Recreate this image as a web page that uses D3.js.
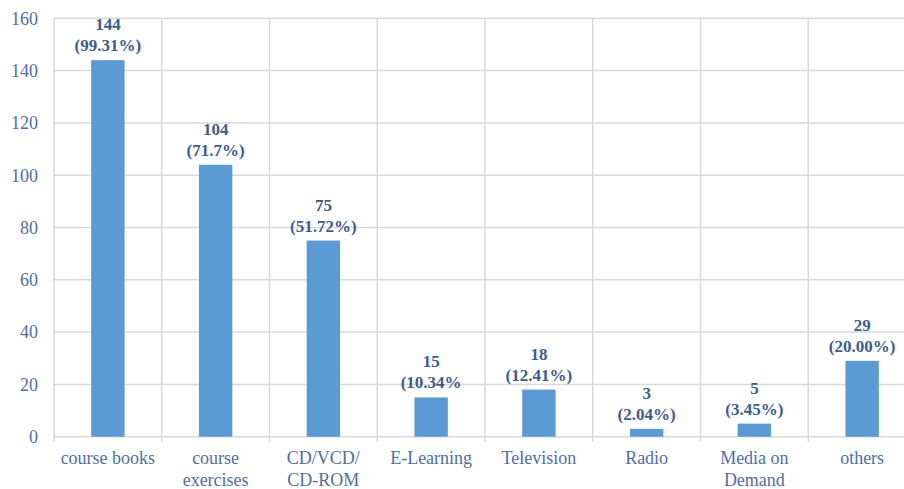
<!DOCTYPE html>
<html>
<head>
<meta charset="utf-8">
<script src="https://cdn.jsdelivr.net/npm/d3@7"></script>
<style>
  body { margin: 0; background: #fff; }
  text { font-family: "Liberation Serif", "Times New Roman", serif; }
</style>
</head>
<body>
<div class="chart"></div>
<script>
var categories = ["course books", "course\nexercises", "CD/VCD/\nCD-ROM", "E-Learning",
  "Television", "Radio", "Media on\nDemand", "others"];
var counts = [144, 104, 75, 15, 18, 3, 5, 29];
var percentLabels = ["(99.31%)", "(71.7%)", "(51.72%)", "(10.34%", "(12.41%)",
  "(2.04%)", "(3.45%)", "(20.00%)"];
var yTicks = [0, 20, 40, 60, 80, 100, 120, 140, 160];

var svgWidth = 904;
var svgHeight = 489;

// plot area (right side runs past the picture edge, as in the reference)
var plotLeft = 54, plotRight = 916, plotTop = 18.3, plotBottom = 436.7;

var svg = d3.select(".chart")
  .append("svg")
  .attr("width", svgWidth)
  .attr("height", svgHeight);

var x = d3.scaleBand()
  .domain(categories)
  .range([plotLeft, plotRight])
  .paddingInner(0.69)
  .paddingOuter(0.345);

var y = d3.scaleLinear()
  .domain([0, 160])
  .range([plotBottom, plotTop]);

var gridColor = "#d9d9d9";

// horizontal gridlines
svg.selectAll("line.hgrid")
  .data(yTicks)
  .enter()
  .append("line")
  .attr("class", "hgrid")
  .attr("x1", plotLeft)
  .attr("x2", plotRight)
  .attr("y1", d => y(d))
  .attr("y2", d => y(d))
  .attr("stroke", gridColor)
  .attr("stroke-width", 1.5);

// vertical lines between categories (with tick below the axis)
var step = x.step();
var bounds = d3.range(categories.length + 1).map(i => plotLeft + i * step);
svg.selectAll("line.vgrid")
  .data(bounds)
  .enter()
  .append("line")
  .attr("class", "vgrid")
  .attr("x1", d => d)
  .attr("x2", d => d)
  .attr("y1", plotTop)
  .attr("y2", plotBottom + 5)
  .attr("stroke", gridColor)
  .attr("stroke-width", 1.5);

// y axis labels
svg.selectAll("text.ytick")
  .data(yTicks)
  .enter()
  .append("text")
  .attr("class", "ytick")
  .attr("x", 38)
  .attr("y", d => y(d))
  .attr("dy", "0.35em")
  .attr("text-anchor", "end")
  .attr("font-size", 18)
  .attr("fill", "#4f6ea8")
  .text(d => d);

// bars
svg.selectAll("rect.bar")
  .data(counts)
  .enter()
  .append("rect")
  .attr("class", "bar")
  .attr("x", (d, i) => x(categories[i]))
  .attr("width", x.bandwidth())
  .attr("y", d => y(d))
  .attr("height", d => y(0) - y(d))
  .attr("fill", "#5b9bd5");

// data labels
var labelColor = "#3d5b94";
svg.selectAll("text.val")
  .data(counts)
  .enter()
  .append("text")
  .attr("class", "val")
  .attr("x", (d, i) => x(categories[i]) + x.bandwidth() / 2)
  .attr("y", d => y(d) - 30)
  .attr("text-anchor", "middle")
  .attr("font-size", 17)
  .attr("font-weight", "bold")
  .attr("fill", labelColor)
  .text(d => d);

svg.selectAll("text.pct")
  .data(counts)
  .enter()
  .append("text")
  .attr("class", "pct")
  .attr("x", (d, i) => x(categories[i]) + x.bandwidth() / 2)
  .attr("y", d => y(d) - 9)
  .attr("text-anchor", "middle")
  .attr("font-size", 17)
  .attr("font-weight", "bold")
  .attr("fill", labelColor)
  .text((d, i) => percentLabels[i]);

// category labels
var catLabels = svg.selectAll("text.cat")
  .data(categories)
  .enter()
  .append("text")
  .attr("class", "cat")
  .attr("x", d => x(d) + x.bandwidth() / 2)
  .attr("y", 464)
  .attr("text-anchor", "middle")
  .attr("font-size", 18)
  .attr("fill", "#4f6ea8");

catLabels.each(function(d) {
  var lines = d.split("\n");
  var t = d3.select(this);
  lines.forEach(function(line, i) {
    t.append("tspan")
      .attr("x", t.attr("x"))
      .attr("dy", i === 0 ? 0 : 22)
      .text(line);
  });
});
</script>
</body>
</html>
